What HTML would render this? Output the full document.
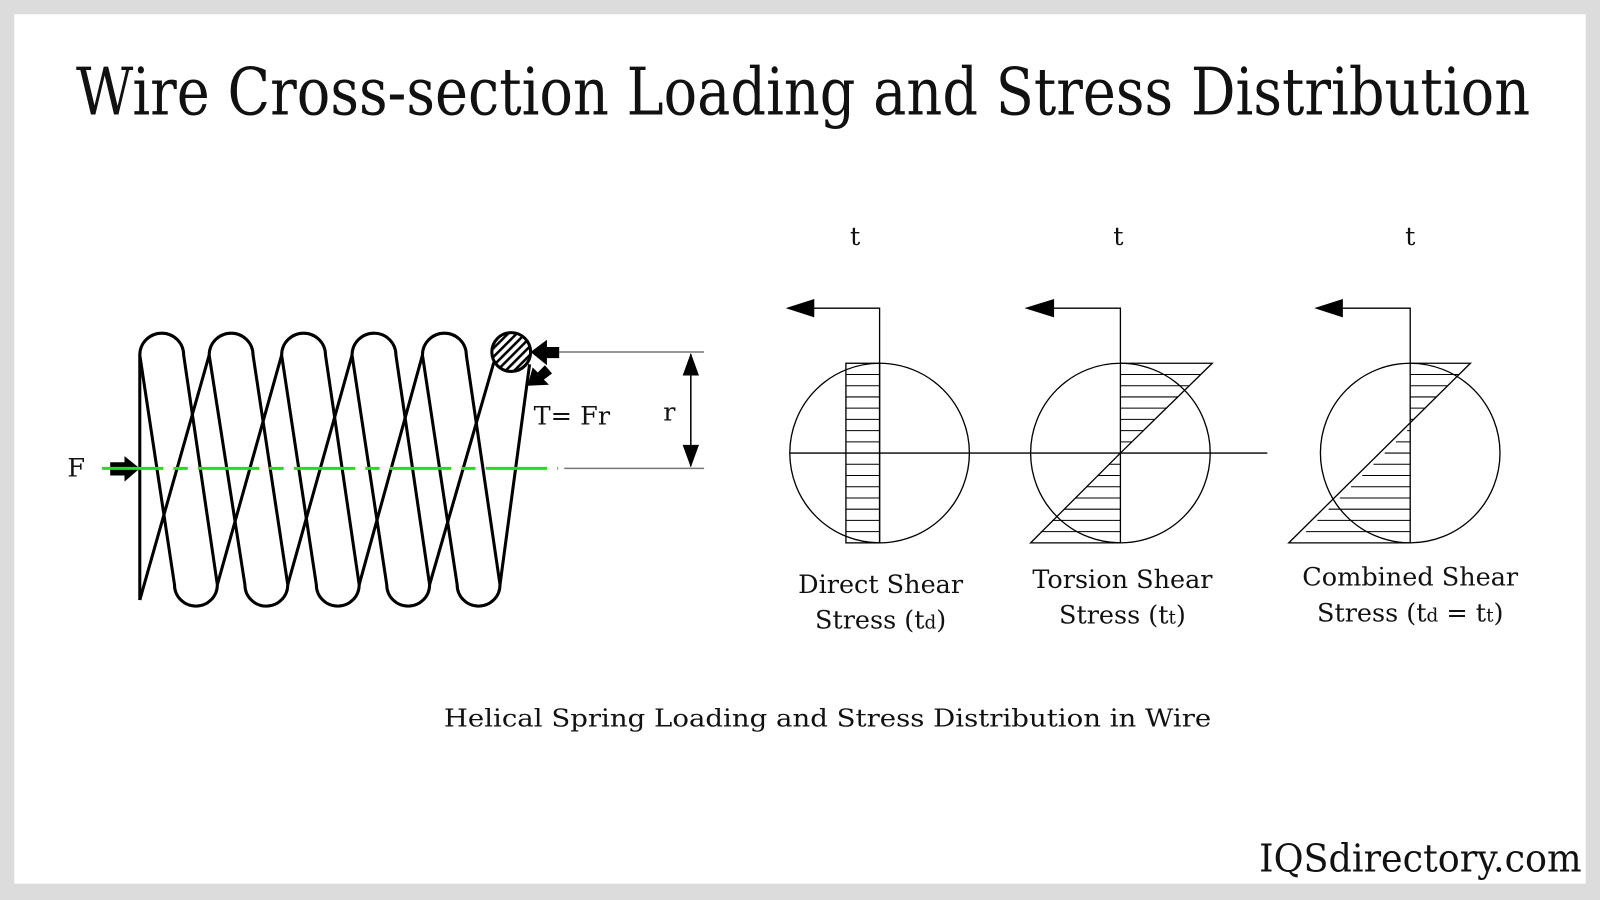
<!DOCTYPE html>
<html><head><meta charset="utf-8"><style>
html,body{margin:0;padding:0;background:#dcdcdc;}
svg{display:block;}
text{font-family:"DejaVu Serif","Liberation Serif",serif;fill:#111;}
</style></head><body>
<svg width="1600" height="900" viewBox="0 0 1568 882" preserveAspectRatio="none" xmlns="http://www.w3.org/2000/svg">
<defs>
<pattern id="hatch" width="6" height="6" patternUnits="userSpaceOnUse" patternTransform="rotate(45)">
<rect width="6" height="6" fill="#fff"/><rect width="2.5" height="6" fill="#000"/></pattern>
<marker id="ah" markerWidth="10" markerHeight="10" refX="9" refY="5" orient="auto" markerUnits="userSpaceOnUse"><path d="M0,0 L10,5 L0,10 Z" fill="#000"/></marker>
</defs>
<rect x="0" y="0" width="1568" height="882" fill="#dcdcdc"/>
<rect x="14" y="14" width="1540" height="852" fill="#fff"/>
<text x="787" y="112" text-anchor="middle" font-size="64" textLength="1425" lengthAdjust="spacingAndGlyphs">Wire Cross-section Loading and Stress Distribution</text>

<!-- spring -->
<g fill="none" stroke="#000" stroke-width="3" stroke-linejoin="round">
<path d="M137,588 L137,348"/>
<path d="M137,348 A21.5,21.5 0 0 1 180,348 L213,573 A21,21 0 0 1 171,573 Z"/>
<path d="M205,348 A21.5,21.5 0 0 1 248,348 L282,573 A21,21 0 0 1 240,573 Z"/>
<path d="M276,348 A21.5,21.5 0 0 1 319,348 L352,573 A21,21 0 0 1 310,573 Z"/>
<path d="M345,348 A21.5,21.5 0 0 1 388,348 L421,573 A21,21 0 0 1 379,573 Z"/>
<path d="M414,348 A21.5,21.5 0 0 1 457,348 L490,573 A21,21 0 0 1 448,573 Z"/>
<path d="M137,588 L205,348 M213,573 L276,348 M282,573 L345,348 M352,573 L414,348 M421,573 L484,355 M490,573 L519,357"/>
</g>
<circle cx="501" cy="345" r="19" fill="url(#hatch)" stroke="#000" stroke-width="3"/>
<path d="M520,345 L536,333 L536,340 L548,340 L548,351 L536,351 L536,358 Z" fill="#000"/>
<path d="M517,378 L522,360 L527,365 L534,358 L541,366 L533,372 L538,377 Z" fill="#000"/>
<path d="M137,459 L122,447 L122,453 L108,453 L108,466 L122,466 L122,472 Z" fill="#000"/>
<text x="66" y="467" font-size="25">F</text>
<line x1="100" y1="459" x2="547" y2="459" stroke="#22dd22" stroke-width="3" stroke-dasharray="60,10,14,10"/>
<g stroke="#777" stroke-width="1.5"><line x1="548" y1="345" x2="690" y2="345"/><line x1="553" y1="459" x2="690" y2="459"/></g>
<line x1="677" y1="347" x2="677" y2="457" stroke="#000" stroke-width="1.5"/>
<path d="M677,346 L669,368 L685,368 Z M677,458 L669,436 L685,436 Z" fill="#000"/>
<text x="523" y="416" font-size="25">T= Fr</text>
<text x="650" y="412" font-size="25">r</text>

<!-- stress diagrams -->
<g fill="none" stroke="#000" stroke-width="1.3">
<line x1="774" y1="444" x2="1242" y2="444"/>
<circle cx="862" cy="444" r="88"/>
<circle cx="1098" cy="444" r="88"/>
<circle cx="1382" cy="444" r="88"/>
<path d="M862,532 L862,302 L790,302 M1098,532 L1098,302 L1025,302 M1382,532 L1382,302 L1308,302"/>
<rect x="829" y="356" width="33" height="176"/>
<path d="M1098,356 L1188,356 L1098,444 M1098,444 L1010,532 L1098,532"/>
<path d="M1382,356 L1441,356 L1263,532 L1382,532"/>
</g>
<path d="M770,302 L798,293 L798,311 Z M1004,302 L1033,293 L1033,311 Z M1288,302 L1316,293 L1316,311 Z" fill="#000"/>
<g stroke="#000" stroke-width="1">
<path d="M829,367H862M829,378H862M829,389H862M829,400H862M829,411H862M829,422H862M829,433H862M829,455H862M829,466H862M829,477H862M829,488H862M829,499H862M829,510H862M829,521H862"/>
<path d="M1098,367H1177M1098,378H1166M1098,389H1154M1098,400H1143M1098,411H1132M1098,422H1121M1098,433H1109M1087,455H1098M1076,466H1098M1065,477H1098M1054,488H1098M1043,499H1098M1031,510H1098M1020,521H1098"/>
<path d="M1382,367H1430M1382,378H1419M1382,389H1408M1382,400H1397M1382,411H1386M1379,422H1382M1368,433H1382M1357,444H1382M1346,455H1382M1335,466H1382M1324,477H1382M1313,488H1382M1302,499H1382M1291,510H1382M1280,521H1382"/>
</g>
<g font-size="25" text-anchor="middle">
<text x="838" y="240">t</text><text x="1096" y="240">t</text><text x="1382" y="240">t</text>
<text x="863" y="581">Direct Shear</text>
<text x="863" y="616">Stress (t<tspan font-size="18">d</tspan>)</text>
<text x="1100" y="576">Torsion Shear</text>
<text x="1100" y="611">Stress (t<tspan font-size="18">t</tspan>)</text>
<text x="1382" y="574">Combined Shear</text>
<text x="1382" y="609">Stress (t<tspan font-size="18">d</tspan> = t<tspan font-size="18">t</tspan>)</text>
</g>
<text x="811" y="712" font-size="24" text-anchor="middle" textLength="752" lengthAdjust="spacingAndGlyphs">Helical Spring Loading and Stress Distribution in Wire</text>
<text x="1392" y="854" font-size="38" text-anchor="middle" textLength="316" lengthAdjust="spacingAndGlyphs">IQSdirectory.com</text>
</svg>
</body></html>
